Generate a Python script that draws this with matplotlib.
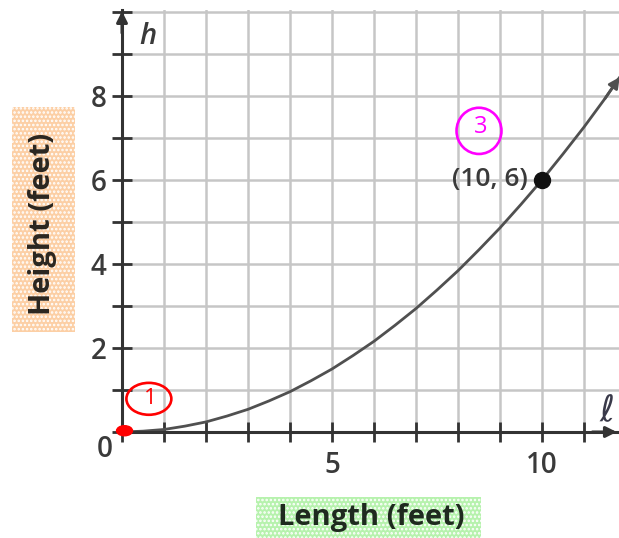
import matplotlib
matplotlib.use("Agg")
import matplotlib.pyplot as plt
from matplotlib.patches import Rectangle, Ellipse

plt.rcParams['font.family'] = ['Open Sans', 'DejaVu Sans']
plt.rcParams['hatch.linewidth'] = 1.2

# Length (ft) and height (ft) of the curve
length_ft = [0, 0.5, 1, 1.5, 2, 2.5, 3, 3.5, 4, 4.5, 5, 5.5, 6, 6.5, 7, 7.5,
             8, 8.5, 9, 9.5, 10, 10.5, 11, 11.5, 11.85]
height_ft = [0, 0.02, 0.06, 0.14, 0.24, 0.38, 0.54, 0.74, 0.96, 1.22, 1.5,
             1.82, 2.16, 2.54, 2.94, 3.38, 3.84, 4.34, 4.86, 5.42, 6.0, 6.62,
             7.26, 7.94, 8.45]

marked_point = (10, 6)
marked_label = "(10, 6)"

x_ticks = list(range(0, 12))
y_ticks = list(range(0, 11))
x_tick_labels = {5: "5", 10: "10"}
y_tick_labels = {2: "2", 4: "4", 6: "6", 8: "8"}

W, H = 619, 538
fig = plt.figure(figsize=(W / 100, H / 100), dpi=100)

# plot area in pixel units: origin at (122, 432) from top-left, 42 px per unit
x0, y0, unit = 122, 432, 42
xmax = (W - x0) / unit
ymax = (y0 - 10) / unit
ax = fig.add_axes([x0 / W, (H - y0) / H, (W - x0) / W, (y0 - 10) / H])
ax.set_xlim(0, xmax)
ax.set_ylim(0, ymax)

axis_col = '#333333'
text_col = '#3a3a3a'

ax.set_xticks(x_ticks)
ax.set_yticks(y_ticks)
ax.set_xticklabels([x_tick_labels.get(t, "") for t in x_ticks])
ax.set_yticklabels([y_tick_labels.get(t, "") for t in y_ticks])
ax.grid(True, color='#c6c6c6', lw=1.8, zorder=0)
ax.set_axisbelow(True)

for side in ('top', 'right'):
    ax.spines[side].set_visible(False)
for side in ('left', 'bottom'):
    ax.spines[side].set_color(axis_col)
    ax.spines[side].set_linewidth(2.2)
    ax.spines[side].set_zorder(3)

ax.tick_params(axis='both', direction='inout', length=14, width=2,
               color=axis_col, labelcolor=text_col, labelsize=20)
ax.tick_params(axis='y', pad=4)
ax.tick_params(axis='x', pad=7)
for lab in ax.get_xticklabels() + ax.get_yticklabels():
    lab.set_fontweight('semibold')

# origin label
ax.text(-0.42, -0.42, "0", ha='center', va='center', fontsize=20,
        fontweight='semibold', color=text_col, clip_on=False)

# axis arrows
arrow_kw = dict(arrowstyle='-|>', color=axis_col, lw=2.2, mutation_scale=16,
                shrinkA=0, shrinkB=0)
ax.annotate('', xy=(11.78, 0), xytext=(11.2, 0), arrowprops=arrow_kw,
            annotation_clip=False, zorder=4)
ax.annotate('', xy=(0, 10.02), xytext=(0, 9.5), arrowprops=arrow_kw,
            annotation_clip=False, zorder=4)

# axis variable names
ax.text(0.62, 9.42, "h", fontsize=21, fontstyle='italic', fontweight='semibold',
        color=text_col, ha='center', va='center')
ax.text(11.55, 0.5, "\u2113", fontsize=26, fontstyle='italic',
        family=['DejaVu Sans'], color='#3a3a4a', ha='center', va='center')

# curve with arrowhead at its end
ax.plot(length_ft, height_ft, color='#505050', lw=2, solid_capstyle='round',
        zorder=3, clip_on=False)
ax.annotate('', xy=(length_ft[-1], height_ft[-1]),
            xytext=(length_ft[-2], height_ft[-2]),
            arrowprops=dict(arrowstyle='-|>', color='#505050', lw=2,
                            mutation_scale=16, shrinkA=0, shrinkB=0),
            annotation_clip=False, zorder=3)

ax.plot([marked_point[0]], [marked_point[1]], 'o', color='#111111', ms=11.5,
        zorder=5)
ax.text(marked_point[0] - 0.33, marked_point[1], marked_label, ha='right',
        va='center', fontsize=19, fontweight='semibold', color=text_col,
        zorder=5)

# hand-drawn marks
ax.add_patch(Ellipse((0.06, 0.03), 0.38, 0.24, color='#ff0000', zorder=6,
                     clip_on=False))
ax.add_patch(Ellipse((0.64, 0.79), 1.07, 0.76, fill=False, ec='#ff0000',
                     lw=1.9, zorder=6))
ax.text(0.68, 0.79, "1", ha='center', va='center', fontsize=16,
        color='#ff0000', zorder=6)
ax.add_patch(Ellipse((8.5, 7.17), 1.07, 1.1, fill=False, ec='#ff00ff',
                     lw=1.9, zorder=6))
ax.text(8.53, 7.27, "3", ha='center', va='center', fontsize=17,
        color='#ff00ff', zorder=6)

# axis titles on tinted panels
def panel(x, y, w, h, color):
    fig.patches.append(Rectangle((x / W, 1 - (y + h) / H), w / W, h / H,
                                 transform=fig.transFigure, facecolor=color,
                                 edgecolor='white', hatch='....', lw=0,
                                 zorder=0))

panel(256, 497, 225, 41, '#b6f2ad')
panel(12, 107, 63, 225, '#fccfa5')

fig.text(371 / W, 1 - 517 / H, "Length (feet)", ha='center', va='center',
         fontsize=21, fontweight='bold', color='#1f2a1f')
fig.text(43 / W, 1 - 224 / H, "Height (feet)", ha='center', va='center',
         rotation=90, fontsize=21, fontweight='bold', color='#2a2620')

fig.savefig("out.png", dpi=100)
